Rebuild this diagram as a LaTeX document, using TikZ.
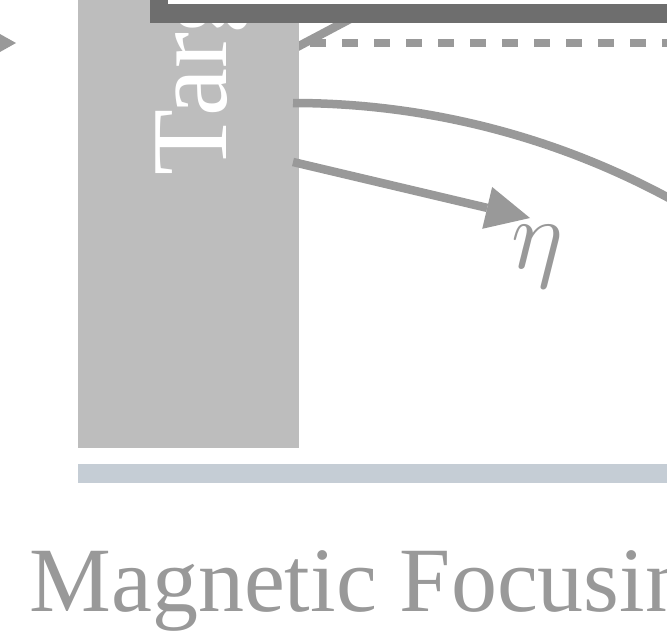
\RequirePackage{fix-cm}
\documentclass[tikz,border=0pt]{standalone}
\usepackage{fontspec}
\setmainfont{Liberation Serif}
\usetikzlibrary{arrows.meta}
\definecolor{raygray}{RGB}{153,153,153}
\definecolor{targetgray}{RGB}{189,189,189}
\definecolor{framegray}{RGB}{110,110,110}
\definecolor{basebar}{RGB}{197,205,213}
\begin{document}
\begin{tikzpicture}[x=1pt,y=-1pt,
  ray/.style={draw=raygray,line width=8.5pt},
  dashray/.style={ray,dash pattern=on 16pt off 16pt},
  bigarrow/.style={ray,-{Triangle[length=44pt,width=43pt,line width=0pt]}},
  targetbox/.style={fill=targetgray,draw=none,inner sep=0pt,minimum width=221pt,minimum height=520pt,anchor=south west},
  framebox/.style={draw=framegray,line width=18.5pt,fill=white},
  lbl/.style={inner sep=0pt,outer sep=0pt}]
\useasboundingbox (0,0) rectangle (667,635);
\clip (0,0) rectangle (667,635);
% rays beneath the target
\coordinate (dstart) at (246,43);
\coordinate (dend) at (700,43);
\draw[dashray] (dstart) -- (dend);
\coordinate (diagA) at (290,50.8);
\coordinate (diagB) at (420,-18);
\draw[ray] (diagA) -- (diagB);
% target
\node[targetbox] (target) at (78,447.7) {};
\node[lbl,white,rotate=90,anchor=base west,font=\fontsize{108}{108}\selectfont] (tlabel) at (226.5,175) {Target};
% trajectories from the target
\coordinate (cstart) at (293,103);
\draw[ray] (cstart) arc[start angle=-90,end angle=-50,radius=791];
\coordinate (astart) at (293,162);
\coordinate (atip) at (530,218);
\draw[bigarrow] (astart) -- (atip);
\node[lbl,raygray,anchor=base west,font=\fontsize{100}{100}\selectfont] (eta) at (511,268) {$\eta$};
% frame on top
\draw[framebox] (159,-200) rectangle (900,13.5);
% base bar
\node[fill=basebar,inner sep=0pt,minimum width=620pt,minimum height=18.7pt,anchor=north west] (base) at (78,464) {};
% incoming arrow tip at left edge
\fill[raygray] (-2,32.9) -- (16,43) -- (-2,53.1) -- cycle;
% caption
\node[lbl,raygray,anchor=base west,font=\fontsize{92}{92}\selectfont] (caption) at (29.5,611.7) {Magnetic Focusing};
\end{tikzpicture}
\end{document}
